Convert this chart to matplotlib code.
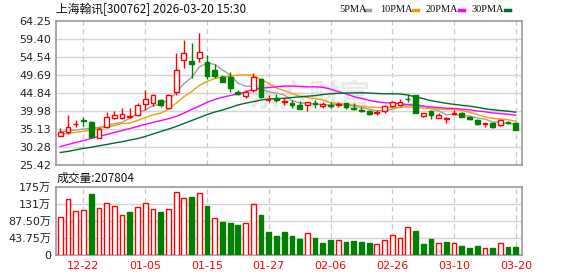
import numpy as np
import pandas as pd
import matplotlib
matplotlib.use("Agg")
import matplotlib.pyplot as plt

plt.rcParams['font.family'] = ['DejaVu Sans', 'Noto Sans CJK SC']

# daily bars (trading days shown on the chart)
dates = ["12-17", "12-18", "12-19", "12-22", "12-23", "12-24", "12-25", "12-26", "12-29", "12-30",
         "12-31", "01-05", "01-06", "01-07", "01-08", "01-09", "01-12", "01-13", "01-14", "01-15",
         "01-16", "01-19", "01-20", "01-21", "01-22", "01-23", "01-26", "01-27", "01-28", "01-29",
         "01-30", "02-02", "02-03", "02-04", "02-05", "02-06", "02-09", "02-10", "02-11", "02-12",
         "02-13", "02-24", "02-25", "02-26", "02-27", "03-02", "03-03", "03-04", "03-05", "03-06",
         "03-09", "03-10", "03-11", "03-12", "03-13", "03-16", "03-17", "03-18", "03-19", "03-20"]

opens = [33.24, 34.25, 36.4, 37.6, 36.93, 32.8, 35.6, 38.17, 38.0, 38.4,
         38.9, 41.95, 42.06, 42.86, 40.7, 45.2, 53.7, 53.46, 54.36, 53.1,
         51.0, 49.07, 49.23, 45.0, 44.1, 45.64, 48.53, 42.9, 43.4, 42.33,
         42.22, 41.6, 41.52, 42.1, 41.4, 41.6, 41.68, 42.06, 40.7, 40.25,
         40.06, 39.52, 40.06, 41.4, 41.68, 43.3, 44.3, 38.7, 39.98, 38.2,
         37.95, 39.09, 39.52, 38.44, 37.55, 36.48, 36.83, 36.1, 37.0, 36.66]
highs = [35.3, 38.9, 37.55, 38.28, 37.28, 35.75, 39.63, 40.06, 40.7, 40.9,
         42.06, 45.64, 44.6, 43.2, 44.65, 55.75, 59.13, 58.2, 60.93, 55.1,
         52.6, 49.69, 50.4, 45.64, 45.64, 50.15, 48.8, 44.3, 44.57, 43.84,
         42.95, 42.76, 42.33, 42.95, 42.4, 42.5, 42.5, 42.22, 42.22, 41.14,
         40.25, 40.25, 41.6, 42.76, 43.2, 44.5, 44.37, 39.52, 40.25, 39.36,
         38.28, 40.25, 39.79, 38.63, 37.74, 36.75, 37.1, 37.74, 37.3, 37.1]
lows = [33.2, 33.86, 35.75, 36.02, 32.78, 32.6, 35.3, 37.8, 37.7, 38.0,
        38.63, 40.25, 41.4, 41.06, 40.52, 44.3, 51.66, 48.96, 53.11, 48.6,
        48.8, 47.7, 45.2, 44.3, 43.4, 45.2, 43.57, 42.3, 42.49, 41.6,
        40.7, 40.44, 40.06, 40.87, 40.87, 40.87, 41.06, 40.44, 40.25, 39.71,
        38.98, 38.9, 39.52, 41.14, 41.52, 42.49, 39.44, 38.28, 37.8, 38.17,
        36.83, 38.9, 38.28, 37.55, 36.21, 35.75, 35.4, 35.85, 36.6, 34.86]
closes = [34.4, 35.6, 36.6, 37.3, 33.05, 35.13, 38.3, 39.0, 39.15, 38.6,
          41.6, 43.14, 44.3, 41.6, 44.3, 51.04, 55.54, 52.65, 55.8, 49.4,
          49.45, 47.9, 46.1, 44.57, 45.2, 49.23, 43.84, 42.95, 42.86, 42.7,
          41.68, 40.6, 42.33, 41.9, 41.8, 41.3, 41.95, 40.98, 40.44, 39.9,
          39.17, 39.79, 41.3, 42.33, 42.5, 43.1, 39.52, 39.36, 38.95, 39.0,
          38.2, 39.52, 38.44, 37.83, 36.48, 36.75, 35.75, 37.47, 36.85, 34.86]
# volume in 万 (10k lots)
volumes = [96.6, 145.3, 112.7, 115.3, 157.0, 122.2, 133.2, 127.3, 101.7, 110.2,
           124.8, 133.2, 119.6, 110.2, 119.6, 163.2, 147.8, 148.6, 158.9, 125.5,
           94.0, 84.6, 82.0, 76.9, 81.2, 130.7, 102.5, 58.9, 48.7, 58.9,
           48.7, 41.0, 55.5, 43.6, 30.7, 38.4, 37.6, 33.3, 35.9, 33.3,
           30.7, 27.3, 37.6, 50.4, 42.7, 71.7, 61.5, 28.2, 41.0, 30.7,
           33.3, 30.7, 23.0, 17.9, 22.2, 17.1, 17.9, 30.7, 20.5, 20.78]

# moving average values before the window is full
ma5_head = [34.3, 34.6, 34.85, 35.1]
ma10_head = [33.7, 33.9, 34.25, 34.5, 34.85, 35.25, 35.65, 36.05, 36.6]
ma20_head = [30.4, 30.95, 31.5, 32.0, 32.6, 33.1, 33.65, 34.2, 34.7, 35.25,
             35.8, 36.35, 36.9, 37.4, 37.9, 38.5, 39.4, 40.4, 41.3]
ma30_head = [28.8, 29.1, 29.5, 29.9, 30.2, 30.6, 30.95, 31.35, 31.7, 32.15,
             32.55, 33.1, 33.8, 34.45, 35.1, 35.8, 36.6, 37.4, 38.2, 39.0,
             39.7, 40.25, 40.9, 41.6, 42.1, 42.5, 42.95, 43.2, 43.35]

price_ticks = [25.42, 30.28, 35.13, 39.98, 44.84, 49.69, 54.54, 59.40, 64.25]
vol_ticks = [0, 43.75, 87.5, 131.25, 175]
vol_labels = ["0", "43.75万", "87.50万", "131万", "175万"]
date_ticks = ["12-22", "01-05", "01-15", "01-27", "02-06", "02-26", "03-10", "03-20"]

RED = "#ff0000"
GREEN = "#008000"
GRID = "#d4d4d4"
BORDER = "#999999"

df = pd.DataFrame({"date": dates, "open": opens, "high": highs, "low": lows,
                   "close": closes, "vol": volumes})
x = np.arange(len(df))

ma_specs = [(5, ma5_head, "#a0a0a0"), (10, ma10_head, "#f0a000"),
            (20, ma20_head, "#ff00ff"), (30, ma30_head, "#006a30")]

fig = plt.figure(figsize=(5.78, 2.76), dpi=100)
ax = fig.add_axes([56 / 578, 1 - 165 / 276, 466 / 578, 144 / 276])
axv = fig.add_axes([56 / 578, 1 - 255 / 276, 466 / 578, 68 / 276])

xlim = (-0.56, 59.8)
date_pos = [dates.index(d) for d in date_ticks]

for a in (ax, axv):
    a.set_xlim(*xlim)
    for s in a.spines.values():
        s.set_color(BORDER)
        s.set_linewidth(1.2)
    a.tick_params(length=0, labelsize=8, colors="#222222")
    for p in date_pos:
        a.axvline(p, color="#c8c8c8", lw=0.9, ls=(0, (4, 3)), zorder=0)

# watermark
ax.text(300 / 466 * (xlim[1] - xlim[0]) + xlim[0] - 6, 44.0, "东方财富", fontsize=22,
        color="#e9e9e9", ha="center", va="center", family=["Noto Sans CJK SC"],
        fontweight="bold", zorder=0)

# price pane
ax.set_ylim(price_ticks[0], price_ticks[-1])
ax.set_yticks(price_ticks)
ax.set_yticklabels([f"{v:.2f}" for v in price_ticks])
ax.set_xticks([])
for v in price_ticks[1:-1]:
    ax.axhline(v, color=GRID, lw=1, zorder=0)

w = 0.62
for i, r in df.iterrows():
    up = r["close"] >= r["open"]
    c = RED if up else GREEN
    lo_body, hi_body = sorted([r["open"], r["close"]])
    ax.vlines(i, r["low"], lo_body, color=c, lw=1, zorder=3)
    ax.vlines(i, hi_body, r["high"], color=c, lw=1, zorder=3)
    if hi_body - lo_body < 0.12:
        ax.hlines(r["close"], i - w / 2, i + w / 2, color=c, lw=1.3, zorder=4)
    else:
        ax.bar(i, hi_body - lo_body, bottom=lo_body, width=w,
               facecolor="white" if up else GREEN, edgecolor=c, lw=1, zorder=4)

for n, head, col in ma_specs:
    ma = df["close"].rolling(n).mean().to_numpy()
    ma[:len(head)] = head
    ax.plot(x, ma, color=col, lw=1, zorder=2)

# volume pane, colour from close vs previous close
prev = df["close"].shift(1).fillna(df["open"])
vol_up = df["close"] >= prev
axv.set_ylim(0, 175)
axv.set_yticks(vol_ticks)
axv.set_yticklabels(vol_labels)
for v in vol_ticks[1:-1]:
    axv.axhline(v, color=GRID, lw=1, zorder=0)
axv.bar(x, df["vol"], width=0.62,
        color=["white" if u else GREEN for u in vol_up],
        edgecolor=[RED if u else GREEN for u in vol_up], lw=1, zorder=3)
axv.set_xticks(date_pos)
axv.set_xticklabels(date_ticks, color=RED, fontsize=8)
axv.tick_params(axis="x", pad=4, colors=RED)
axv.tick_params(axis="y", colors="#222222")

# titles and legend
fig.text(56 / 578, 1 - 9 / 276, "上海翰讯[300762] 2026-03-20 15:30", fontsize=8.5,
         va="center", ha="left", family=["Noto Sans CJK SC", "DejaVu Sans"], color="#111111")
fig.text(57 / 578, 1 - 178 / 276, "成交量:207804", fontsize=8.5,
         va="center", ha="left", family=["Noto Sans CJK SC", "DejaVu Sans"], color="#111111")

leg = [("5PMA", 339, 365, "#a0a0a0"), ("10PMA", 380, 413, "#f0a000"),
       ("20PMA", 426, 459, "#ff00ff"), ("30PMA", 472, 505, "#006a30")]
for label, tx, lx, col in leg:
    fig.text(tx / 578, 1 - 9 / 276, label, fontsize=7.5, va="center", ha="left",
             family="Liberation Serif", color="#111111")
    fig.add_artist(plt.Line2D([lx / 578, (lx + 5) / 578], [1 - 10 / 276] * 2,
                              color=col, lw=2.5))

fig.savefig("out.png", dpi=100)
